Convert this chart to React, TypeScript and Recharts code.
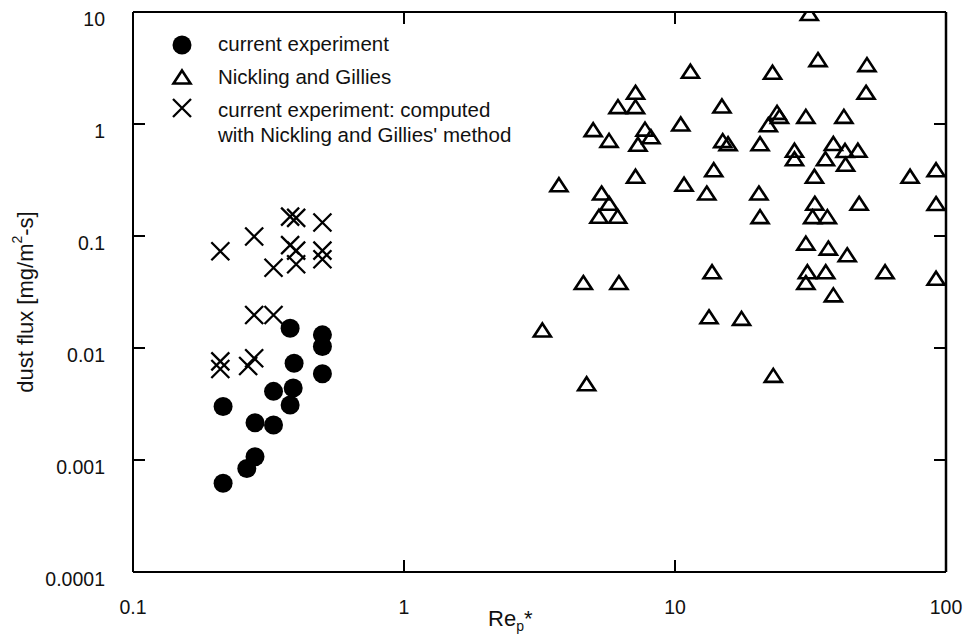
import { ScatterChart, Scatter, XAxis, YAxis, Legend, Label } from 'recharts';

const FONT = '"Liberation Sans", Arial, Helvetica, sans-serif';
const INK = '#111';

const xTicks = [0.1, 1, 10, 100];
const xTickLabels = ['0.1', '1', '10', '100'];
const yTicks = [0.0001, 0.001, 0.01, 0.1, 1, 10];
const yTickLabels = ['0.0001', '0.001', '0.01', '0.1', '1', '10'];

const seriesNames = [
  'current experiment',
  'Nickling and Gillies',
  'current experiment: computed',
  "with Nickling and Gillies' method",
];

// current experiment (filled circles)
const currentRe = [0.215, 0.215, 0.263, 0.282, 0.282, 0.33, 0.33, 0.393, 0.39, 0.38, 0.38, 0.5, 0.5, 0.5];
const currentFlux = [0.003, 0.00062, 0.00084, 0.00107, 0.00215, 0.00205, 0.0041, 0.0073, 0.0044, 0.0031, 0.015, 0.0131, 0.0103, 0.0059];

// Nickling and Gillies (open triangles)
const ngRe = [
  31.3, 33.7, 51.1, 11.4, 22.9, 7.15, 50.7, 6.16, 7.15, 14.9,
  23.8, 24.3, 30.4, 42.0, 10.5, 22.1, 4.99, 7.75, 5.71, 8.15,
  7.3, 15.0, 15.7, 20.6, 27.6, 27.6, 38.4, 42.4, 47.3, 35.9,
  42.6, 13.9, 32.7, 73.7, 91.9, 7.15, 3.73, 10.8, 5.36, 13.1,
  20.4, 5.71, 5.24, 6.14, 20.6, 32.8, 32.2, 36.5, 47.8, 91.9,
  30.4, 36.8, 43.2, 30.8, 36.0, 30.4, 59.6, 91.9, 38.4, 13.7,
  4.59, 6.21, 13.35, 17.6, 3.24, 4.72, 23.05,
];
const ngFlux = [
  9.7, 3.76, 3.39, 2.96, 2.9, 1.92, 1.92, 1.43, 1.43, 1.45,
  1.27, 1.17, 1.17, 1.17, 1.0, 0.986, 0.89, 0.9, 0.714, 0.77,
  0.66, 0.71, 0.667, 0.667, 0.583, 0.49, 0.67, 0.58, 0.583, 0.49,
  0.437, 0.391, 0.342, 0.342, 0.391, 0.342, 0.287, 0.29, 0.242, 0.242,
  0.242, 0.196, 0.15, 0.15, 0.149, 0.196, 0.149, 0.149, 0.196, 0.195,
  0.0864, 0.078, 0.068, 0.048, 0.048, 0.0384, 0.048, 0.042, 0.0298, 0.048,
  0.0384, 0.0384, 0.019, 0.0184, 0.0145, 0.0048, 0.0057,
];

// current experiment computed with Nickling and Gillies' method (crosses)
const computedRe = [0.21, 0.28, 0.38, 0.4, 0.5, 0.38, 0.4, 0.4, 0.33, 0.5, 0.5, 0.28, 0.33, 0.21, 0.21, 0.266, 0.28];
const computedFlux = [0.073, 0.099, 0.149, 0.145, 0.132, 0.083, 0.074, 0.056, 0.052, 0.074, 0.062, 0.0197, 0.0197, 0.0076, 0.0065, 0.0069, 0.0081];

const zip = (xs: number[], ys: number[]) => xs.map((x, i) => ({ x, y: ys[i] }));
const currentData = zip(currentRe, currentFlux);
const ngData = zip(ngRe, ngFlux);
const computedData = zip(computedRe, computedFlux);

const Dot = ({ cx, cy }: any) => <circle cx={cx} cy={cy} r={9.5} fill="#000" />;

const Tri = ({ cx, cy }: any) => (
  <path
    d={`M${cx},${cy - 6.5} L${cx + 8.5},${cy + 6.5} L${cx - 8.5},${cy + 6.5} Z`}
    fill="none"
    stroke="#000"
    strokeWidth={2.6}
    strokeLinejoin="miter"
  />
);

const Cross = ({ cx, cy }: any) => (
  <path
    d={`M${cx - 9},${cy - 9} L${cx + 9},${cy + 9} M${cx - 9},${cy + 9} L${cx + 9},${cy - 9}`}
    stroke="#000"
    strokeWidth={2.3}
    fill="none"
  />
);

const YTick = ({ x, y, payload }: any) => (
  <text x={x} y={y + 7} textAnchor="end" dominantBaseline="central" fontSize={19.5} fontFamily={FONT} fill={INK}>
    {yTickLabels[yTicks.indexOf(payload.value)]}
  </text>
);

const XTick = ({ x, y, payload }: any) => (
  <text x={x} y={y} dy="0.71em" textAnchor="middle" fontSize={19.5} fontFamily={FONT} fill={INK}>
    {xTickLabels[xTicks.indexOf(payload.value)]}
  </text>
);

const YTitle = ({ viewBox }: any) => {
  const cx = viewBox.x + 25;
  const cy = viewBox.y + viewBox.height / 2 + 10;
  return (
    <text
      x={cx}
      y={cy}
      transform={`rotate(-90, ${cx}, ${cy})`}
      textAnchor="middle"
      dominantBaseline="central"
      fontSize={22}
      fontFamily={FONT}
      fill={INK}
    >
      <tspan>dust flux [mg/m</tspan>
      <tspan fontSize={14} dy={-8}>2</tspan>
      <tspan dy={8}>-s]</tspan>
    </text>
  );
};

const XTitle = ({ viewBox }: any) => {
  const x = viewBox.x + 355;
  const y = viewBox.y + 54;
  return (
    <text x={x} y={y} fontSize={22} fontFamily={FONT} fill={INK}>
      <tspan>Re</tspan>
      <tspan fontSize={14} dy={5}>p</tspan>
      <tspan dy={-5}>*</tspan>
    </text>
  );
};

const LegendBox = () => (
  <svg width={420} height={130} style={{ display: 'block' }}>
    <Dot cx={22} cy={20} />
    <Tri cx={22} cy={52} />
    <Cross cx={22} cy={83} />
    <g fontSize={20.5} fontFamily={FONT} fill={INK}>
      <text x={58} y={26}>{seriesNames[0]}</text>
      <text x={58} y={59}>{seriesNames[1]}</text>
      <text x={58} y={92}>{seriesNames[2]}</text>
      <text x={58} y={117}>{seriesNames[3]}</text>
    </g>
  </svg>
);

export default function App() {
  return (
    <div style={{ position: 'absolute', left: 0, top: 0, background: '#fff' }}>
      <ScatterChart width={968} height={637} margin={{ top: 11, right: 21, bottom: 0, left: 0 }}>
        <XAxis
          dataKey="x"
          type="number"
          scale="log"
          domain={[0.1, 100]}
          ticks={xTicks}
          allowDataOverflow
          height={65}
          tickSize={-12}
          tickMargin={40}
          tick={<XTick />}
          axisLine={{ stroke: '#000', strokeWidth: 2 }}
          tickLine={{ stroke: '#000', strokeWidth: 2 }}
        >
          <Label content={<XTitle />} />
        </XAxis>
        <XAxis
          xAxisId="top"
          orientation="top"
          dataKey="x"
          type="number"
          scale="log"
          domain={[0.1, 100]}
          ticks={xTicks}
          allowDataOverflow
          height={1}
          tickSize={-12}
          tickMargin={0}
          tickFormatter={() => ''}
          axisLine={{ stroke: '#000', strokeWidth: 2 }}
          tickLine={{ stroke: '#000', strokeWidth: 2 }}
        />
        <YAxis
          dataKey="y"
          type="number"
          scale="log"
          domain={[0.0001, 10]}
          ticks={yTicks}
          allowDataOverflow
          width={133}
          tickSize={-12}
          tickMargin={40}
          tick={<YTick />}
          axisLine={{ stroke: '#000', strokeWidth: 2 }}
          tickLine={{ stroke: '#000', strokeWidth: 2 }}
        >
          <Label content={<YTitle />} />
        </YAxis>
        <YAxis
          yAxisId="right"
          orientation="right"
          dataKey="y"
          type="number"
          scale="log"
          domain={[0.0001, 10]}
          ticks={yTicks}
          allowDataOverflow
          width={1}
          tickSize={-12}
          tickMargin={0}
          tickFormatter={() => ''}
          axisLine={{ stroke: '#000', strokeWidth: 2.5 }}
          tickLine={{ stroke: '#000', strokeWidth: 2 }}
        />
        <Legend
          layout="horizontal"
          verticalAlign="middle"
          align="center"
          wrapperStyle={{ left: 160, top: 25, width: 420 }}
          content={<LegendBox />}
        />
        <Scatter name={seriesNames[1]} data={ngData} shape={Tri} xAxisId="top" yAxisId="right" isAnimationActive={false} />
        <Scatter name={seriesNames[0]} data={currentData} shape={Dot} isAnimationActive={false} />
        <Scatter name={seriesNames[2]} data={computedData} shape={Cross} isAnimationActive={false} />
      </ScatterChart>
    </div>
  );
}
